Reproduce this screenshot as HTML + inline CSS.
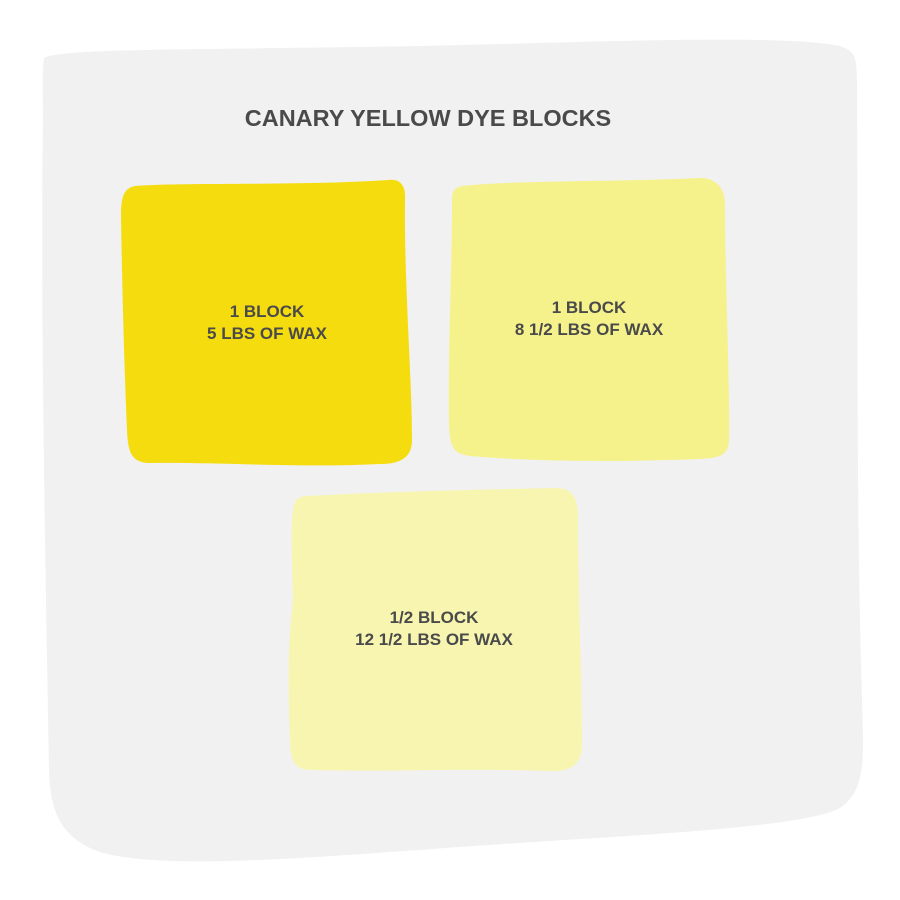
<!DOCTYPE html>
<html><head><meta charset="utf-8"><style>
html,body{margin:0;padding:0;background:#fff;}
svg{display:block;}
text{font-family:"Liberation Sans",sans-serif;font-weight:bold;fill:#4a4a4a;text-anchor:middle;}
</style></head><body>
<svg width="900" height="900" viewBox="0 0 900 900" xmlns="http://www.w3.org/2000/svg">
<path d="M44,58 C60,48 200,50 420,46 C600,42 780,34 840,46 C858,52 856,62 857,80 C858,300 856,500 862,700 C864,760 866,790 840,808 C800,830 600,836 420,850 C300,858 160,870 100,852 C60,838 50,810 49,770 C46,600 40,300 43,120 C43,90 42,70 44,58 Z" fill="#f1f1f1"/>
<text x="428" y="126" font-size="23.5">CANARY YELLOW DYE BLOCKS</text>
<path d="M135,186 C180,182 300,186 388,180 C402,178 406,188 405,200 C404,280 412,380 412,440 C412,458 400,464 380,464 C300,468 220,462 150,463 C130,463 128,450 127,430 C124,360 122,280 121,215 C121,195 125,188 135,186 Z" fill="#f5dc0f"/>
<text x="267" y="317" font-size="17">1 BLOCK</text>
<text x="267" y="339" font-size="17">5 LBS OF WAX</text>
<path d="M462,186 C520,180 620,182 700,178 C718,178 725,190 725,205 C725,280 730,380 729,440 C729,456 718,458 700,459 C620,462 540,462 470,456 C452,454 450,445 449,425 C448,340 452,270 452,200 C452,190 455,188 462,186 Z" fill="#f5f28c"/>
<text x="589" y="313" font-size="17">1 BLOCK</text>
<text x="589" y="335" font-size="17">8 1/2 LBS OF WAX</text>
<path d="M305,496 C380,492 460,490 555,488 C575,488 578,500 578,520 C578,600 582,680 582,745 C582,765 570,772 550,771 C460,768 380,772 312,770 C294,770 290,760 290,740 C288,680 288,640 293,600 C292,560 290,520 294,505 C296,498 300,497 305,496 Z" fill="#f7f5b0"/>
<text x="434" y="623" font-size="17">1/2 BLOCK</text>
<text x="434" y="645" font-size="17">12 1/2 LBS OF WAX</text>
</svg>
</body></html>
